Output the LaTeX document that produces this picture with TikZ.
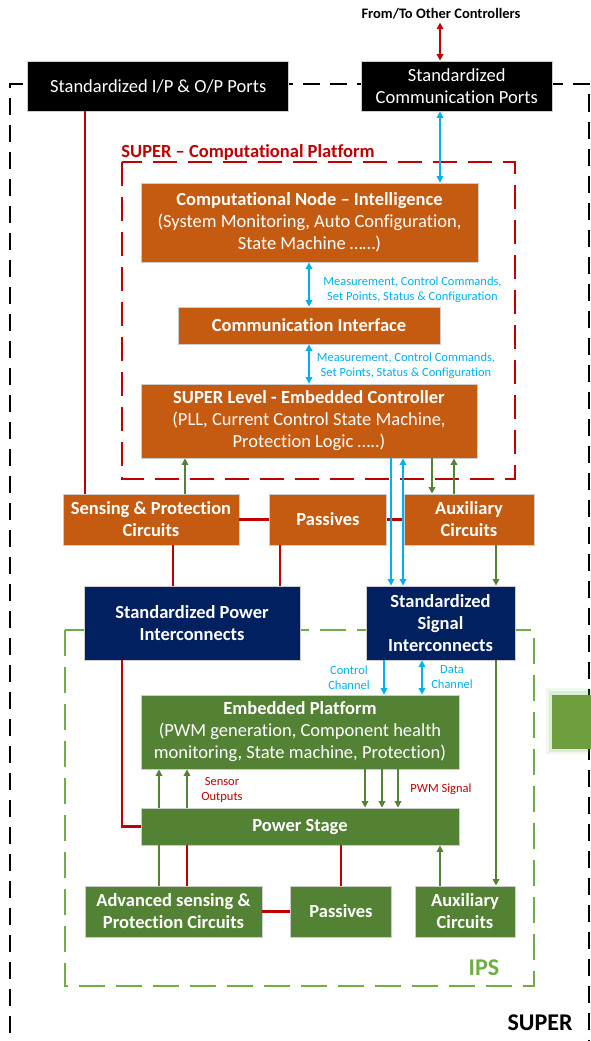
\documentclass[tikz,border=0pt]{standalone}
\usepackage{fontspec}
\setmainfont{Carlito}[Ligatures={NoCommon}]
\usetikzlibrary{arrows.meta}

\definecolor{boxorange}{HTML}{C55A11}
\definecolor{boxnavy}{HTML}{002060}
\definecolor{boxgreen}{HTML}{548235}
\definecolor{linered}{HTML}{C00000}
\definecolor{lineblue}{HTML}{00B0F0}
\definecolor{ipsgreen}{HTML}{70AD47}
\definecolor{sidegreen}{HTML}{6E9E3E}

\tikzset{
  box/.style={draw=black!20, line width=0.8pt, inner sep=0pt, align=center,
    text=white, font=\fontsize{18.5}{22}\selectfont},
  blackbox/.style={box, fill=black},
  orangebox/.style={box, fill=boxorange},
  navybox/.style={box, fill=boxnavy, font=\fontsize{18.5}{22}\selectfont\bfseries},
  greenbox/.style={box, fill=boxgreen},
  boldtext/.style={font=\fontsize{18.5}{22}\selectfont\bfseries},
  smalllabel/.style={inner sep=0pt, align=center, font=\fontsize{12.5}{15}\selectfont},
  redline/.style={draw=linered, line width=2.5pt},
  blueline/.style={draw=lineblue, line width=2.4pt},
  greenline/.style={draw=boxgreen, line width=1.9pt},
  tipfwd/.style={-{Triangle[length=6.5pt,width=6.5pt]}},
  tipboth/.style={{Triangle[length=6.5pt,width=6.5pt]}-{Triangle[length=6.5pt,width=6.5pt]}},
  superframe/.style={draw=black, line width=2pt, dash pattern=on 17pt off 10pt},
  cpframe/.style={draw=linered, line width=2.5pt, dash pattern=on 24pt off 11pt},
  ipsframe/.style={draw=ipsgreen, line width=2.5pt, dash pattern=on 26pt off 11pt},
}

\begin{document}
\begin{tikzpicture}[x=1pt,y=-1pt]
\useasboundingbox (0,0) rectangle (590,1041);

% outer SUPER frame (runs past the page bottom)
\draw[superframe] (9.5,1060) -- (9.5,84) -- (589,84) -- (589,1060);
% computational platform and IPS frames
\draw[cpframe] (122,162) rectangle (515,479);
\draw[ipsframe] (65,630) rectangle (534,986);

% side block with soft halo
\fill[ipsgreen, opacity=0.10] (546,688) rectangle (596,754);
\fill[ipsgreen, opacity=0.15] (549,691) rectangle (596,752);
\fill[sidegreen] (552,695) rectangle (596,749);

% column guides for vertical connectors
\foreach \n/\x in {xIO/85, xCom/440, xM/309, xS/185, xBa/391, xBb/403, xGa/432, xGb/454,
                   xGc/496, xRa/173, xRb/280, xRc/122, xCC/384, xDC/422, xSa/159, xSb/187,
                   xPa/365, xPb/382, xPc/398, xRd/341, xGd/440}
  \coordinate (\n) at (\x,0);

% ---------- nodes ----------
\node[inner sep=0pt, font=\fontsize{14.5}{17}\selectfont\bfseries] (ftc) at (441,14) {From/To Other Controllers};

\node[blackbox, minimum width=261pt, minimum height=50pt] (io) at (158.25,86)
  {Standardized I/P \& O/P Ports};
\node[blackbox, minimum width=191.5pt, minimum height=50pt] (comm) at (456.75,86)
  {Standardized\\Communication Ports};

\node[inner sep=0pt, text=linered, boldtext] (cpl) at (248,152) {SUPER – Computational Platform};

\node[orangebox, minimum width=337pt, minimum height=79pt] (cni) at (309.5,222.5)
  {\textbf{Computational Node – Intelligence}\\(System Monitoring, Auto Configuration,\\State Machine ……)};
\node[orangebox, boldtext, minimum width=262pt, minimum height=37pt] (ci) at (309,325.5)
  {Communication Interface};
\node[orangebox, minimum width=336pt, minimum height=74pt] (slc) at (309,421)
  {\textbf{SUPER Level - Embedded Controller}\\(PLL, Current Control State Machine,\\Protection Logic …..)};

\node[smalllabel, text=lineblue] (lab1) at (412.5,289.5)
  {Measurement, Control Commands,\\Set Points, Status \& Configuration};
\node[smalllabel, text=lineblue] (lab2) at (406,365.5)
  {Measurement, Control Commands,\\Set Points, Status \& Configuration};

\node[orangebox, boldtext, minimum width=176pt, minimum height=51pt] (sens) at (151,519.5)
  {Sensing \& Protection\\Circuits};
\node[orangebox, boldtext, minimum width=117pt, minimum height=51pt] (pas1) at (328,519.5)
  {Passives};
\node[orangebox, boldtext, minimum width=130pt, minimum height=51pt] (aux1) at (469,519.5)
  {Auxiliary\\Circuits};

\node[navybox, minimum width=216pt, minimum height=74pt] (pwr) at (192,623)
  {Standardized Power\\Interconnects};
\node[navybox, minimum width=149pt, minimum height=74pt] (sig) at (440.5,623)
  {Standardized\\Signal\\Interconnects};

\node[smalllabel, text=lineblue] (ctl) at (349,677.5) {Control\\Channel};
\node[smalllabel, text=lineblue] (dat) at (452,677.5) {Data\\Channel};

\node[greenbox, minimum width=318pt, minimum height=74pt] (emb) at (300,732)
  {\textbf{Embedded Platform}\\(PWM generation, Component health\\monitoring, State machine, Protection)};
\node[greenbox, boldtext, minimum width=318pt, minimum height=37pt] (ps) at (300,826.5)
  {Power Stage};

\node[smalllabel, text=linered] (sen) at (222,789.5) {Sensor\\Outputs};
\node[smalllabel, text=linered] (pwm) at (441,789) {PWM Signal};

\node[greenbox, boldtext, minimum width=177pt, minimum height=51pt] (adv) at (173.5,911.5)
  {Advanced sensing \&\\Protection Circuits};
\node[greenbox, boldtext, minimum width=101pt, minimum height=51pt] (pas2) at (341,911.5)
  {Passives};
\node[greenbox, boldtext, minimum width=100pt, minimum height=51pt] (aux2) at (465,911.5)
  {Auxiliary\\Circuits};

\node[inner sep=0pt, text=ipsgreen, font=\fontsize{24}{28}\selectfont\bfseries] (ips) at (484,968) {IPS};
\node[inner sep=0pt, font=\fontsize{24}{28}\selectfont\bfseries] (super) at (540,1023) {SUPER};

% ---------- power (red) connections ----------
\draw[redline] (io.south -| xIO) -- (sens.north -| xIO);
\draw[redline] (sens.east) -- (pas1.west);
\draw[redline] (pas1.east) -- (aux1.west);
\draw[redline] (sens.south -| xRa) -- (pwr.north -| xRa);
\draw[redline] (pas1.south -| xRb) -- (pwr.north -| xRb);
\draw[redline] (pwr.south -| xRc) |- (ps.west);
\draw[redline] (ps.south -| xSb) -- (adv.north -| xSb);
\draw[redline] (ps.south -| xRd) -- (pas2.north -| xRd);
\draw[redline] (adv.east) -- (pas2.west);
\draw[redline, line width=1.6pt, tipboth, shorten <=3pt] (ftc.south -| xCom) -- (comm.north -| xCom);

% ---------- communication (blue) connections ----------
\draw[blueline, tipboth] (comm.south -| xCom) -- (cni.north -| xCom);
\draw[blueline, tipboth] (cni.south -| xM) -- (ci.north -| xM);
\draw[blueline, tipboth] (ci.south -| xM) -- (slc.north -| xM);
\draw[blueline, tipfwd] (slc.south -| xBa) -- (sig.north -| xBa);
\draw[blueline, tipboth] (slc.south -| xBb) -- (sig.north -| xBb);
\draw[blueline, tipfwd] (sig.south -| xCC) -- (emb.north -| xCC);
\draw[blueline, tipboth] (sig.south -| xDC) -- (emb.north -| xDC);

% ---------- signal (green) connections ----------
\draw[greenline, tipfwd] (sens.north -| xS) -- (slc.south -| xS);
\draw[greenline, tipfwd] (slc.south -| xGa) -- (aux1.north -| xGa);
\draw[greenline, tipfwd] (aux1.north -| xGb) -- (slc.south -| xGb);
\draw[greenline, tipfwd] (aux1.south -| xGc) -- (sig.north -| xGc);
\draw[greenline, tipfwd] (sig.south -| xGc) -- (aux2.north -| xGc);
\draw[greenline, tipfwd] (ps.north -| xSa) -- (emb.south -| xSa);
\draw[greenline, tipfwd] (ps.north -| xSb) -- (emb.south -| xSb);
\draw[greenline, tipfwd] (emb.south -| xPa) -- (ps.north -| xPa);
\draw[greenline, tipfwd] (emb.south -| xPb) -- (ps.north -| xPb);
\draw[greenline, tipfwd] (emb.south -| xPc) -- (ps.north -| xPc);
\draw[greenline] (ps.south -| xSa) -- (adv.north -| xSa);
\draw[greenline, tipfwd] (aux2.north -| xGd) -- (ps.south -| xGd);
\end{tikzpicture}
\end{document}
